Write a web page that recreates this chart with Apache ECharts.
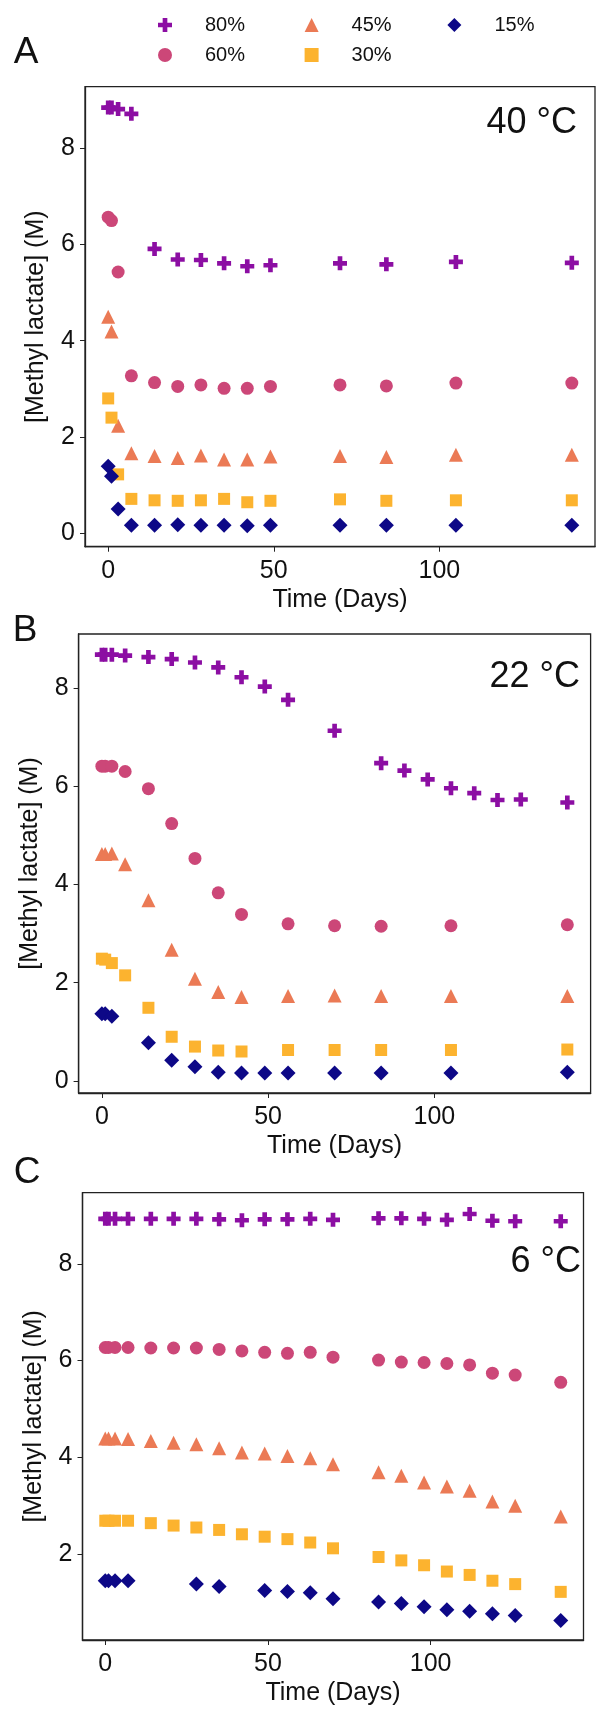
<!DOCTYPE html>
<html>
<head>
<meta charset="utf-8">
<script src="https://cdn.jsdelivr.net/npm/echarts@6/dist/echarts.min.js"></script>
<style>
html,body{margin:0;padding:0;background:#fff;}
#chart{width:596px;height:1712px;}
</style>
</head>
<body>
<div id="chart"></div>
<script>
// ---------- data ----------
const seriesNames = ['80%', '60%', '45%', '30%', '15%'];
const xTicks = [0, 50, 100];
const yTicks = [0, 2, 4, 6, 8];

// Panel A (40 °C)
const daysA = [0, 1, 3, 7, 14, 21, 28, 35, 42, 49, 70, 84, 105, 140];
const a80 = [8.85, 8.85, 8.82, 8.72, 5.91, 5.69, 5.68, 5.61, 5.55, 5.57, 5.61, 5.59, 5.64, 5.62];
const a60 = [6.57, 6.50, 5.43, 3.27, 3.13, 3.05, 3.08, 3.01, 3.01, 3.05, 3.08, 3.06, 3.12, 3.12];
const a45 = [4.50, 4.19, 2.23, 1.66, 1.60, 1.56, 1.61, 1.53, 1.53, 1.59, 1.60, 1.58, 1.63, 1.63];
const a30 = [2.80, 2.40, 1.22, 0.71, 0.68, 0.67, 0.68, 0.71, 0.64, 0.67, 0.70, 0.67, 0.68, 0.68];
const a15 = [1.39, 1.18, 0.50, 0.16, 0.16, 0.17, 0.16, 0.16, 0.15, 0.16, 0.16, 0.16, 0.16, 0.16];

// Panel B (22 °C)
const daysB80 = [0, 1, 3, 7, 14, 21, 28, 35, 42, 49, 56, 70, 84, 91, 98, 105, 112, 119, 126, 140];
const b80 = [8.68, 8.68, 8.68, 8.66, 8.63, 8.59, 8.52, 8.42, 8.22, 8.03, 7.76, 7.13, 6.47, 6.32, 6.14, 5.96, 5.86, 5.72, 5.73, 5.67];
const daysB = [0, 1, 3, 7, 14, 21, 28, 35, 42, 56, 70, 84, 105, 140];
const b60 = [6.41, 6.41, 6.41, 6.30, 5.95, 5.24, 4.53, 3.83, 3.39, 3.20, 3.16, 3.15, 3.16, 3.18];
const b45 = [4.62, 4.62, 4.63, 4.41, 3.68, 2.67, 2.08, 1.81, 1.71, 1.73, 1.74, 1.73, 1.73, 1.73];
const b30 = [2.49, 2.47, 2.40, 2.15, 1.49, 0.90, 0.70, 0.62, 0.60, 0.63, 0.63, 0.63, 0.63, 0.64];
const daysB15 = [0, 1, 3, 14, 21, 28, 35, 42, 49, 56, 70, 84, 105, 140];
const b15 = [1.37, 1.37, 1.32, 0.78, 0.42, 0.29, 0.18, 0.16, 0.16, 0.16, 0.16, 0.16, 0.16, 0.18];

// Panel C (6 °C)
const daysC = [0, 1, 3, 7, 14, 21, 28, 35, 42, 49, 56, 63, 70, 84, 91, 98, 105, 112, 119, 126, 140];
const c80 = [8.93, 8.93, 8.93, 8.93, 8.93, 8.93, 8.93, 8.92, 8.90, 8.92, 8.92, 8.93, 8.91, 8.94, 8.94, 8.93, 8.91, 9.03, 8.89, 8.88, 8.88];
const c60 = [6.27, 6.27, 6.27, 6.27, 6.26, 6.26, 6.26, 6.23, 6.20, 6.17, 6.15, 6.17, 6.07, 6.01, 5.97, 5.96, 5.94, 5.91, 5.74, 5.70, 5.55];
const c45 = [4.39, 4.39, 4.39, 4.38, 4.34, 4.30, 4.27, 4.19, 4.10, 4.08, 4.03, 3.98, 3.86, 3.69, 3.62, 3.48, 3.40, 3.31, 3.09, 3.00, 2.78];
const c30 = [2.69, 2.69, 2.69, 2.69, 2.64, 2.59, 2.55, 2.50, 2.41, 2.36, 2.31, 2.24, 2.12, 1.94, 1.87, 1.77, 1.64, 1.57, 1.45, 1.38, 1.22];
const daysC15 = [0, 1, 3, 7, 28, 35, 49, 56, 63, 70, 84, 91, 98, 105, 112, 119, 126, 140];
const c15 = [1.45, 1.45, 1.45, 1.45, 1.38, 1.33, 1.25, 1.23, 1.20, 1.08, 1.01, 0.98, 0.91, 0.85, 0.82, 0.77, 0.73, 0.63];

const panelLetters = ['A', 'B', 'C'];
const panelTemps = ['40 °C', '22 °C', '6 °C'];
const xTitle = 'Time (Days)';
const yTitle = '[Methyl lactate] (M)';

// ---------- styling ----------
const FONT = '"Liberation Sans", Arial, sans-serif';
const colors = { '80%': '#8c0ea3', '60%': '#cc4778', '45%': '#eb7a55', '30%': '#fcb32f', '15%': '#0d0887' };
const PLUS = 'path://M-1,-3L1,-3L1,-1L3,-1L3,1L1,1L1,3L-1,3L-1,1L-3,1L-3,-1L-1,-1Z';
const symbols = { '80%': PLUS, '60%': 'circle', '45%': 'triangle', '30%': 'rect', '15%': 'diamond' };
const sizes = { '80%': 14, '60%': 13, '45%': 14, '30%': 12, '15%': 15 };

const grids = [
  { left: 85, top: 86.7, width: 510, height: 460 },
  { left: 78.6, top: 634, width: 512, height: 459 },
  { left: 82.5, top: 1192.7, width: 501, height: 447.3 }
];
const yRanges = [[-0.285, 9.285], [-0.245, 9.1], [0.225, 9.47]];

const panels = [
  [[daysA, a80], [daysA, a60], [daysA, a45], [daysA, a30], [daysA, a15]],
  [[daysB80, b80], [daysB, b60], [daysB, b45], [daysB, b30], [daysB15, b15]],
  [[daysC, c80], [daysC, c60], [daysC, c45], [daysC, c30], [daysC15, c15]]
];

const xAxes = [], yAxes = [], series = [];
grids.forEach((g, i) => {
  xAxes.push({
    type: 'value', gridIndex: i, min: -7, max: 147,
    axisLine: { show: true, onZero: false, lineStyle: { color: '#222', width: 1.3 } },
    axisTick: { show: true, inside: false, length: 5, customValues: xTicks, lineStyle: { color: '#222', width: 1 } },
    axisLabel: { customValues: xTicks, fontSize: 25, color: '#111', fontFamily: FONT, margin: 12 },
    splitLine: { show: false },
    name: xTitle, nameLocation: 'middle', nameGap: 41,
    nameTextStyle: { fontSize: 25, color: '#111', fontFamily: FONT }
  });
  yAxes.push({
    type: 'value', gridIndex: i, min: yRanges[i][0], max: yRanges[i][1],
    axisLine: { show: true, onZero: false, lineStyle: { color: '#222', width: 1.3 } },
    axisTick: { show: true, inside: false, length: 5, customValues: yTicks, lineStyle: { color: '#222', width: 1 } },
    axisLabel: { customValues: yTicks, fontSize: 25, color: '#111', fontFamily: FONT, margin: 10 },
    splitLine: { show: false },
    name: yTitle, nameLocation: 'middle', nameGap: 36, nameRotate: 90,
    nameTextStyle: { fontSize: 25, color: '#111', fontFamily: FONT }
  });
  panels[i].forEach((pair, k) => {
    const nm = seriesNames[k];
    series.push({
      type: 'scatter', name: nm, xAxisIndex: i, yAxisIndex: i,
      symbol: symbols[nm], symbolSize: sizes[nm],
      itemStyle: { color: colors[nm], opacity: 1 },
      emphasis: { disabled: true },
      data: pair[0].map((d, j) => [d, pair[1][j]])
    });
  });
});

const legendBase = {
  orient: 'vertical', padding: 0, itemWidth: 14, itemHeight: 14, itemGap: 10,
  selectedMode: false, icon: null,
  textStyle: { fontSize: 20, color: '#111', fontFamily: FONT, lineHeight: 20, padding: [0, 0, 0, 28] }
};

const graphics = [];
const letterPos = [[26, 53], [25, 631], [27, 1173]];
const tempPos = [[577, 123], [580, 677], [581, 1262]];
panelLetters.forEach((t, i) => {
  graphics.push({ type: 'text', x: letterPos[i][0], y: letterPos[i][1],
    style: { text: t, fontSize: 37, fontFamily: FONT, fill: '#111', textAlign: 'center', textVerticalAlign: 'middle' } });
  graphics.push({ type: 'text', x: tempPos[i][0], y: tempPos[i][1],
    style: { text: panelTemps[i], fontSize: 36, fontFamily: FONT, fill: '#111', textAlign: 'right', textVerticalAlign: 'middle' } });
});

const chart = echarts.init(document.getElementById('chart'), null, { renderer: 'canvas' });
chart.setOption({
  animation: false,
  backgroundColor: '#fff',
  grid: grids.map(g => Object.assign({ show: true, borderColor: '#222', borderWidth: 1.3, backgroundColor: 'transparent', containLabel: false }, g)),
  xAxis: xAxes,
  yAxis: yAxes,
  legend: [
    Object.assign({}, legendBase, { left: 158, top: 15, data: ['80%', '60%'] }),
    Object.assign({}, legendBase, { left: 304.6, top: 15, data: ['45%', '30%'] }),
    Object.assign({}, legendBase, { left: 447.4, top: 15, data: ['15%'] })
  ],
  graphic: graphics,
  series: series
});
</script>
</body>
</html>
